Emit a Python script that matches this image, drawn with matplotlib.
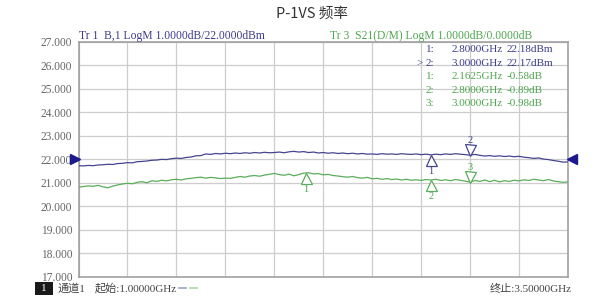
import matplotlib
matplotlib.use('Agg')
import matplotlib.pyplot as plt
import numpy as np
from matplotlib.transforms import offset_copy
from matplotlib.patches import Rectangle
from matplotlib.lines import Line2D

plt.rcParams['font.family'] = ['Liberation Serif', 'Noto Sans CJK SC', 'DejaVu Sans']

# ---------------- data ----------------
freq_start_ghz = 1.0
freq_stop_ghz = 3.5

# Trace 1 (B,1 LogM) in dBm, 101 points from 1.0 to 3.5 GHz
tr1_dbm = [
    21.72, 21.71, 21.73, 21.72, 21.75, 21.76, 21.78, 21.77, 21.81, 21.82,
    21.85, 21.84, 21.89, 21.90, 21.92, 21.95, 21.96, 21.99, 21.98, 22.02,
    22.04, 22.03, 22.07, 22.09, 22.14, 22.15, 22.22, 22.20, 22.24, 22.22,
    22.25, 22.23, 22.26, 22.24, 22.27, 22.25, 22.28, 22.26, 22.29, 22.27,
    22.28, 22.30, 22.27, 22.31, 22.33, 22.30, 22.32, 22.28, 22.30, 22.26,
    22.28, 22.25, 22.27, 22.24, 22.26, 22.23, 22.25, 22.22, 22.24, 22.21,
    22.22, 22.20, 22.23, 22.21, 22.22, 22.20, 22.23, 22.21, 22.20, 22.22,
    22.19, 22.21, 22.18, 22.21, 22.19, 22.22, 22.20, 22.23, 22.21, 22.19,
    22.17, 22.20, 22.16, 22.13, 22.15, 22.12, 22.14, 22.11, 22.13, 22.10,
    22.12, 22.08, 22.06, 22.03, 22.05, 22.00, 21.98, 21.94, 21.91, 21.87,
    21.88,
]

# Trace 3 (S21 LogM) in dB, 101 points from 1.0 to 3.5 GHz
tr3_db = [
    -1.20, -1.17, -1.14, -1.16, -1.12, -1.18, -1.22, -1.15, -1.10, -1.06,
    -1.03, -1.05, -0.99, -0.96, -1.01, -0.92, -0.95, -0.90, -0.93, -0.88,
    -0.86, -0.89, -0.84, -0.82, -0.79, -0.77, -0.81, -0.78, -0.80, -0.83,
    -0.81, -0.82, -0.78, -0.74, -0.77, -0.72, -0.70, -0.73, -0.68, -0.65,
    -0.61, -0.66, -0.69, -0.64, -0.71, -0.66, -0.60, -0.58, -0.63, -0.62,
    -0.67, -0.65, -0.70, -0.72, -0.75, -0.77, -0.74, -0.79, -0.81, -0.78,
    -0.84, -0.82, -0.86, -0.83, -0.87, -0.85, -0.89, -0.86, -0.90, -0.88,
    -0.91, -0.87, -0.89, -0.86, -0.91, -0.88, -0.92, -0.87, -0.90, -0.94,
    -0.98, -0.91, -0.95, -0.89, -0.96, -0.90, -0.97, -0.92, -0.95, -0.90,
    -0.93, -0.88, -0.91, -0.86, -0.89, -0.92, -0.87, -0.93, -0.96, -0.99,
    -0.97,
]
tr1_ref_dbm = 22.0   # reference level of trace 1
tr3_ref_db = 0.0     # reference level of trace 3 (shown on the same line)

ytick_values = [17, 18, 19, 20, 21, 22, 23, 24, 25, 26, 27]
ytick_labels = ['17.000', '18.000', '19.000', '20.000', '21.000', '22.000',
                '23.000', '24.000', '25.000', '26.000', '27.000']

tr1_marker_ids = ['1', '2']
tr1_marker_freq = [2.8, 3.0]
tr1_marker_val = [22.18, 22.17]
tr1_marker_side = ['below', 'above']

tr3_marker_ids = ['1', '2', '3']
tr3_marker_freq = [2.1625, 2.8, 3.0]
tr3_marker_val = [-0.58, -0.89, -0.98]
tr3_marker_side = ['below', 'below', 'above']

tr1_table = [('1:', '2.8000GHz', '22.18dBm'), ('>2:', '3.0000GHz', '22.17dBm')]
tr3_table = [('1:', '2.1625GHz', '-0.58dB'), ('2:', '2.8000GHz', '-0.89dB'),
             ('3:', '3.0000GHz', '-0.98dB')]

title_text = 'P-1VS 频率'
tr1_header = 'Tr 1  B,1 LogM 1.0000dB/22.0000dBm'
tr3_header = 'Tr 3  S21(D/M) LogM 1.0000dB/0.0000dB'
chan_text = '通道1'
start_text = '起始:1.00000GHz'
stop_text = '终止:3.50000GHz'

# ---------------- styling ----------------
W, H = 611, 305
BLUE = '#45458f'
BLUE_TXT = '#3c3c8c'
GREEN = '#5aad5a'
GREEN_TXT = '#4ea64e'
GRID = '#cdcdcd'
FS = 8

fig = plt.figure(figsize=(W / 100, H / 100), dpi=100)
fig.patch.set_facecolor('white')


def fx(x):
    return x / W


def fy(y):
    return 1 - y / H


ax_l, ax_r, ax_t, ax_b = 78.5, 568.0, 41.7, 276.5
ax = fig.add_axes([fx(ax_l), fy(ax_b), fx(ax_r - ax_l), (ax_b - ax_t) / H])

freqs1 = np.linspace(freq_start_ghz, freq_stop_ghz, len(tr1_dbm))
freqs3 = np.linspace(freq_start_ghz, freq_stop_ghz, len(tr3_db))
tr3_disp = tr1_ref_dbm + (np.array(tr3_db) - tr3_ref_db)

ax.plot(freqs1, tr1_dbm, color=BLUE, lw=0.9, zorder=3)
ax.plot(freqs3, tr3_disp, color=GREEN, lw=0.9, zorder=3)

ax.set_xlim(freq_start_ghz, freq_stop_ghz)
ax.set_ylim(min(ytick_values), max(ytick_values))
ax.set_xticks(np.linspace(freq_start_ghz, freq_stop_ghz, 11))
ax.set_xticklabels([])
ax.set_yticks(ytick_values)
ax.set_yticklabels(ytick_labels)
ax.tick_params(axis='both', length=0)
ax.tick_params(axis='y', pad=4.5, labelsize=8.3, labelcolor='#666666')
ax.grid(True, color=GRID, lw=0.9, zorder=1)
for s in ax.spines.values():
    s.set_color('#9a9a9a')
    s.set_linewidth(1.1)

# reference level arrows
left_tr = offset_copy(ax.transData, fig=fig, x=-3.5, y=0, units='dots')
right_tr = offset_copy(ax.transData, fig=fig, x=4.0, y=0, units='dots')
ax.plot([freq_start_ghz], [tr1_ref_dbm], marker='>', ms=6.5, color='#1a1a8c',
        transform=left_tr, clip_on=False, zorder=5)
ax.plot([freq_stop_ghz], [tr1_ref_dbm], marker='<', ms=6.5, color='#1a1a8c',
        transform=right_tr, clip_on=False, zorder=5)


def draw_markers(ids, fr, vals, sides, color, txtcolor, offset_val):
    ms_px = 11.0
    for mid, f, v, side in zip(ids, fr, vals, sides):
        yv = offset_val + v
        if side == 'below':
            tr = offset_copy(ax.transData, fig=fig, x=0, y=-ms_px / 2, units='dots')
            ltr = offset_copy(ax.transData, fig=fig, x=0, y=-16.5, units='dots')
            mk = '^'
        else:
            tr = offset_copy(ax.transData, fig=fig, x=0, y=ms_px / 2, units='dots')
            ltr = offset_copy(ax.transData, fig=fig, x=0, y=15.0, units='dots')
            mk = 'v'
        ax.plot([f], [yv], marker=mk, ms=ms_px * 0.72, mfc='white', mec=color,
                mew=0.9, transform=tr, zorder=6, clip_on=False)
        ax.text(f, yv, mid, transform=ltr, ha='center', va='center',
                fontsize=7.5, color=txtcolor, zorder=6)


draw_markers(tr1_marker_ids, tr1_marker_freq, tr1_marker_val, tr1_marker_side,
             BLUE, BLUE_TXT, 0.0)
draw_markers(tr3_marker_ids, tr3_marker_freq, tr3_marker_val, tr3_marker_side,
             GREEN, GREEN_TXT, tr1_ref_dbm - tr3_ref_db)

# title
fig.text(fx(312), fy(14), title_text, ha='center', va='center', fontsize=10.5,
         color='#333333', family=['Noto Sans CJK SC', 'DejaVu Sans'])

# headers
fig.text(fx(79), fy(36), tr1_header, ha='left', va='center', fontsize=8.4,
         color=BLUE_TXT)
fig.text(fx(330), fy(36), tr3_header, ha='left', va='center', fontsize=8.4,
         color=GREEN_TXT)

# marker table
row_y = [49.3, 63.3, 76.9, 90.5, 103.5]
rows = [(r, BLUE_TXT) for r in tr1_table] + [(r, GREEN_TXT) for r in tr3_table]
for ((lab, fq, val), col), yy in zip(rows, row_y):
    if lab.startswith('>'):
        fig.text(fx(416), fy(yy), '>', ha='left', va='center', fontsize=FS, color=col)
        lab = lab[1:]
    fig.text(fx(426), fy(yy), lab, ha='left', va='center', fontsize=FS, color=col)
    fig.text(fx(503), fy(yy), fq, ha='right', va='center', fontsize=FS, color=col)
    fig.text(fx(507), fy(yy), val, ha='left', va='center', fontsize=FS, color=col)

# bottom status bar
fig.patches.append(Rectangle((fx(35), fy(295)), fx(18), 13 / H,
                             transform=fig.transFigure, facecolor='#1a1a1a',
                             edgecolor='none'))
fig.text(fx(44), fy(288.5), '1', ha='center', va='center', fontsize=FS,
         color='white')
fig.text(fx(58), fy(288.5), chan_text, ha='left', va='center', fontsize=FS,
         color='#444444')
fig.text(fx(94.5), fy(288.5), start_text, ha='left', va='center', fontsize=FS,
         color='#444444')
fig.lines.append(Line2D([fx(179), fx(186)], [fy(288), fy(288)],
                        transform=fig.transFigure, color='#a0a0c8', lw=1.2))
fig.lines.append(Line2D([fx(190), fx(197)], [fy(288), fy(288)],
                        transform=fig.transFigure, color='#a8d8a8', lw=1.2))
fig.text(fx(572), fy(288.5), stop_text, ha='right', va='center', fontsize=FS,
         color='#444444')

fig.savefig('out.png', dpi=100, facecolor='white')
